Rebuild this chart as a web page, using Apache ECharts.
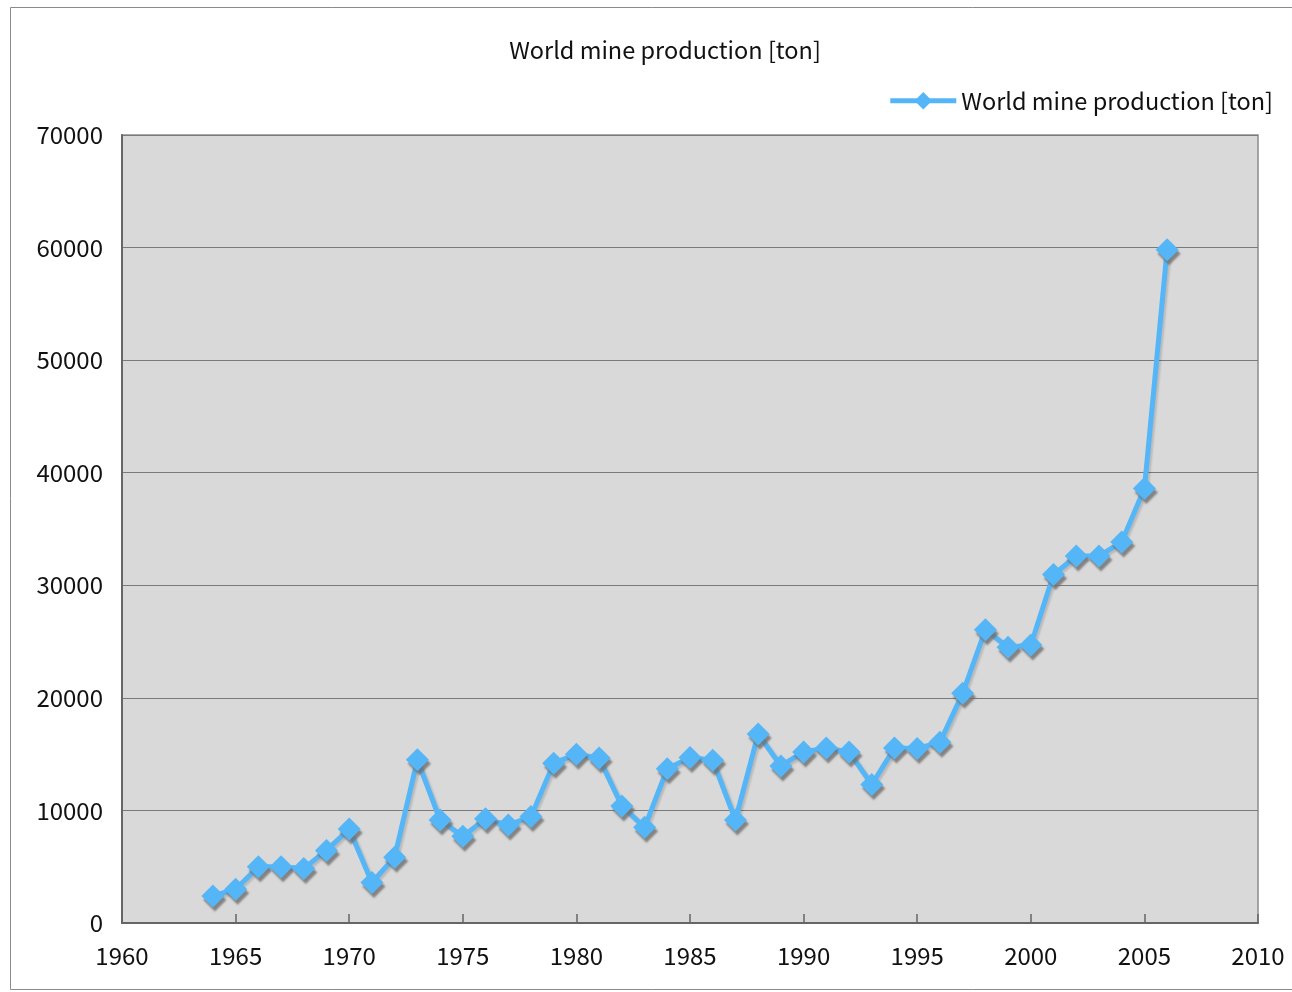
<!DOCTYPE html>
<html>
<head>
<meta charset="utf-8">
<script src="https://cdn.jsdelivr.net/npm/echarts@6/dist/echarts.min.js"></script>
<style>
  html, body { margin: 0; padding: 0; background: #fff; }
  #chart { width: 1292px; height: 992px; }
</style>
</head>
<body>
<div id="chart"></div>
<script>
// Years of record
const years = [
  1964, 1965, 1966, 1967, 1968, 1969, 1970, 1971, 1972, 1973,
  1974, 1975, 1976, 1977, 1978, 1979, 1980, 1981, 1982, 1983,
  1984, 1985, 1986, 1987, 1988, 1989, 1990, 1991, 1992, 1993,
  1994, 1995, 1996, 1997, 1998, 1999, 2000, 2001, 2002, 2003,
  2004, 2005, 2006
];

// World mine production [ton]
const production = [
  2400, 3000, 5000, 5000, 4850, 6450, 8350, 3600, 5850, 14500,
  9150, 7700, 9250, 8700, 9450, 14200, 15000, 14650, 10400, 8500,
  13700, 14700, 14450, 9150, 16800, 13950, 15200, 15550, 15200, 12300,
  15550, 15500, 16050, 20400, 26050, 24500, 24700, 30950, 32600, 32600,
  33850, 38600, 59800
];

const seriesName = 'World mine production [ton]';
const titleText = 'World mine production [ton]';

const points = years.map((y, i) => [y, production[i]]);

const chart = echarts.init(document.getElementById('chart'), null, { renderer: 'canvas' });

const fontFamily = '"Noto Sans CJK JP", "Noto Sans", sans-serif';
const lineColor = '#55b6f7';

chart.setOption({
  backgroundColor: '#ffffff',
  animation: false,
  title: {
    text: titleText,
    left: 660,
    top: 33,
    textAlign: 'center',
    textStyle: { fontFamily, fontSize: 23.5, fontWeight: 'normal', color: '#111' }
  },
  legend: {
    right: 14,
    top: 84,
    itemWidth: 66,
    itemHeight: 22,
    itemGap: 4,
    lineStyle: { width: 5 },
    itemStyle: { shadowBlur: 0, shadowOffsetX: 0, shadowOffsetY: 0 },
    textStyle: { fontFamily, fontSize: 23.5, color: '#111' },
    data: [seriesName]
  },
  graphic: [
    {
      type: 'rect',
      shape: { x: 10.5, y: 7.5, width: 1300, height: 982 },
      style: { fill: 'none', stroke: '#8a8a8a', lineWidth: 1 },
      z: -1
    }
  ],
  grid: {
    left: 122,
    right: 34,
    top: 135,
    bottom: 69,
    show: true,
    backgroundColor: '#d9d9d9',
    borderColor: '#8c8c8c',
    borderWidth: 1.5
  },
  xAxis: {
    type: 'value',
    min: 1960,
    max: 2010,
    interval: 5,
    axisLine: { show: true, lineStyle: { color: '#666', width: 2 } },
    axisTick: { show: true, inside: true, length: 9, lineStyle: { color: '#666', width: 1.5 } },
    splitLine: { show: false },
    axisLabel: {
      fontFamily, fontSize: 24, color: '#111', margin: 21,
      formatter: v => String(v)
    }
  },
  yAxis: {
    type: 'value',
    min: 0,
    max: 70000,
    interval: 10000,
    axisLine: { show: true, lineStyle: { color: '#666', width: 2 } },
    axisTick: { show: false },
    splitLine: { show: true, lineStyle: { color: '#7a7a7a', width: 1.2 } },
    axisLabel: {
      fontFamily, fontSize: 24, color: '#111', margin: 19,
      formatter: v => String(v)
    }
  },
  series: [
    {
      name: seriesName,
      type: 'line',
      data: points,
      symbol: 'diamond',
      symbolSize: 23,
      showSymbol: true,
      lineStyle: {
        color: lineColor,
        width: 5,
        shadowColor: 'rgba(0,0,0,0.15)',
        shadowOffsetX: 2,
        shadowOffsetY: 2,
        shadowBlur: 2
      },
      itemStyle: {
        color: lineColor,
        shadowColor: 'rgba(110,110,110,0.8)',
        shadowOffsetX: 2,
        shadowOffsetY: 4,
        shadowBlur: 2
      }
    }
  ]
});
</script>
</body>
</html>
